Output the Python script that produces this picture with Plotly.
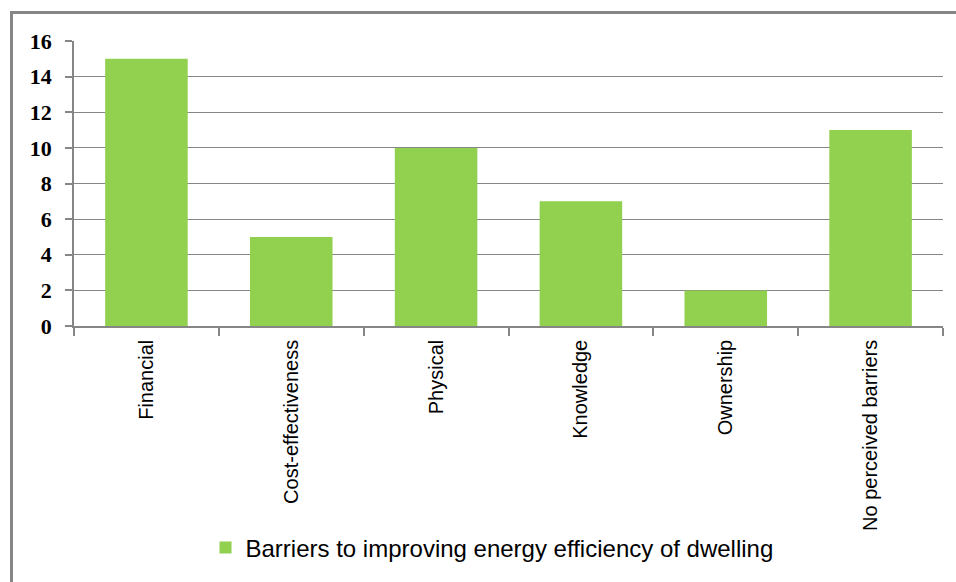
import plotly.graph_objects as go

categories = ["Financial", "Cost-effectiveness", "Physical", "Knowledge", "Ownership", "No perceived barriers"]
values = [15, 5, 10, 7, 2, 11]
series_name = "Barriers to improving energy efficiency of dwelling"
y_ticks = [0, 2, 4, 6, 8, 10, 12, 14, 16]

W, H = 956, 582
L, R, T, B = 74, 13, 41, 256
pw, ph = W - L - R, H - T - B

def px(x):
    return (x - L) / pw

def py(y):
    return (H - B - y) / ph

fig = go.Figure()
fig.add_trace(go.Bar(
    x=categories, y=values, name=series_name,
    marker=dict(color="#92D050", line=dict(width=0)),
    showlegend=True,
))

fig.update_layout(
    width=W, height=H,
    margin=dict(l=L, r=R, t=T, b=B),
    paper_bgcolor="white", plot_bgcolor="white",
    bargap=0.43,
    showlegend=True,
    legend=dict(
        orientation="h", x=px(492), xanchor="center", y=py(548), yanchor="middle",
        font=dict(family="Liberation Sans, Arial", size=24, color="#000000"),
        itemwidth=30,
    ),
    xaxis=dict(
        type="category",
        tickangle=-90,
        tickfont=dict(family="Liberation Sans", size=20, color="#000000"),
        showline=True, linecolor="#868686", linewidth=1.5,
        ticks="outside", tickson="boundaries", ticklen=8, tickcolor="#868686", tickwidth=1.5,
        showgrid=False,
        ticklabelstandoff=4,
    ),
    yaxis=dict(
        range=[0, 16],
        tickvals=y_ticks,
        tickfont=dict(family="Liberation Serif", size=22, color="#000000", weight="bold"),
        showline=True, linecolor="#868686", linewidth=1.5,
        ticks="outside", ticklen=7, tickcolor="#868686", tickwidth=1.5,
        showgrid=True, gridcolor="#868686", gridwidth=1,
        zeroline=False,
        ticklabelstandoff=9,
    ),
    shapes=[
        dict(type="rect", xref="paper", yref="paper",
             x0=px(11.5), x1=px(1000), y0=py(12.5), y1=py(700),
             line=dict(color="#868686", width=3), fillcolor="rgba(0,0,0,0)", layer="below"),
    ],
)

fig.write_html("out.html")
